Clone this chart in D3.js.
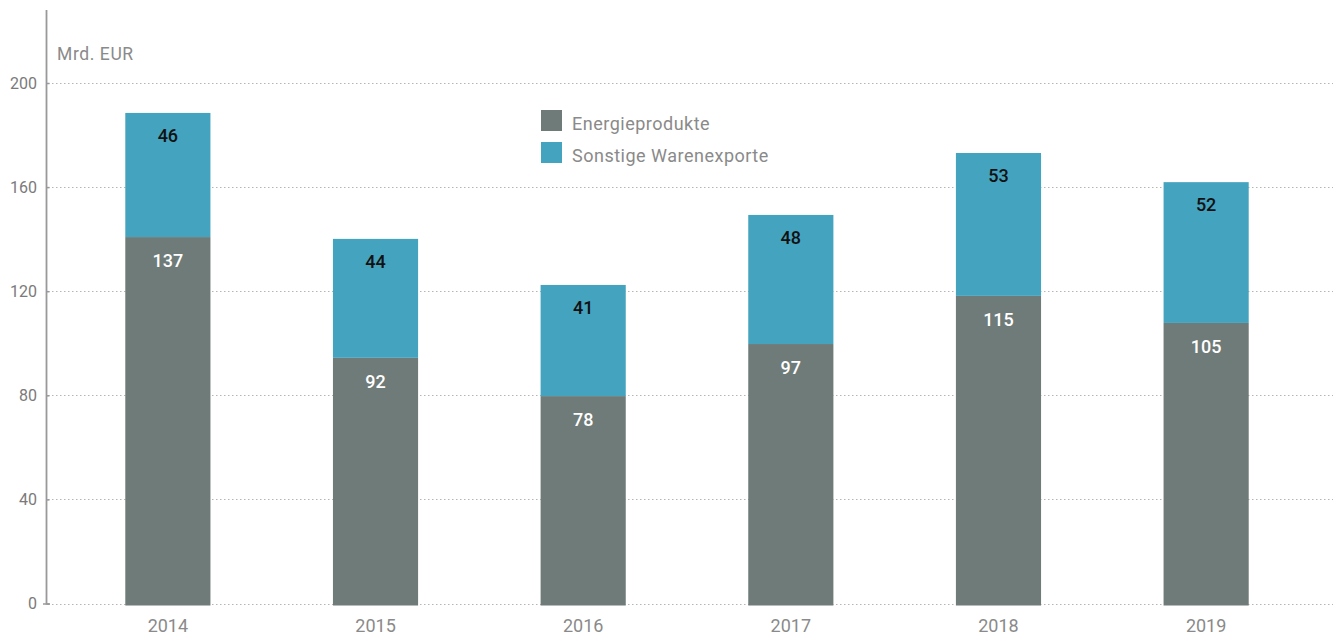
<!DOCTYPE html>
<html>
<head>
<meta charset="utf-8">
<script src="https://cdn.jsdelivr.net/npm/d3@7"></script>
<style>
  body { margin: 0; background: #fff; }
  svg text { font-family: Roboto, "Noto Sans", sans-serif; }
</style>
</head>
<body>
<div id="chart"></div>
<script>
const years = ["2014", "2015", "2016", "2017", "2018", "2019"];
// bar heights as drawn in the picture
const energie = [140.8, 94.4, 79.7, 99.7, 118.2, 107.8];
const sonstige = [47.7, 45.7, 42.7, 49.6, 54.9, 54.1];
// printed labels
const energieLabels = ["137", "92", "78", "97", "115", "105"];
const sonstigeLabels = ["46", "44", "41", "48", "53", "52"];
const yTicks = [0, 40, 80, 120, 160, 200];
const seriesNames = ["Energieprodukte", "Sonstige Warenexporte"];

const width = 1333, height = 639;
const colGrey = "#6f7b78", colBlue = "#44a3bf", textGrey = "#8a8a8a";

const svg = d3.select("#chart").append("svg")
    .attr("width", width)
    .attr("height", height);

const x = d3.scaleBand().domain(years).range([63, 1311]).paddingInner(0.59).paddingOuter(0.3);
const y = d3.scaleLinear().domain([0, 200]).range([603.5, 83]);

// grid lines
svg.append("g")
    .selectAll("line")
    .data(yTicks)
    .enter()
    .append("line")
    .attr("x1", 48)
    .attr("x2", width)
    .attr("y1", d => Math.round(y(d)) + 0.5)
    .attr("y2", d => Math.round(y(d)) + 0.5)
    .attr("stroke", "#b5b5b5")
    .attr("stroke-width", 1.2)
    .attr("stroke-dasharray", "1.5,2.5");

// y axis
const yAxis = svg.append("g")
    .attr("transform", "translate(46.5,0)")
    .call(d3.axisRight(y).tickValues(yTicks).tickSize(3).tickFormat(""));
yAxis.select(".domain").remove();
yAxis.selectAll("line").attr("stroke", "#999").attr("stroke-width", 1.5);
svg.append("line")
    .attr("x1", 46.5).attr("x2", 46.5)
    .attr("y1", 10).attr("y2", y(0) + 1)
    .attr("stroke", "#999")
    .attr("stroke-width", 1.8);
svg.append("line")
    .attr("x1", 43).attr("x2", 50)
    .attr("y1", y(0) + 0.5).attr("y2", y(0) + 0.5)
    .attr("stroke", "#999")
    .attr("stroke-width", 1.5);

svg.append("g")
    .selectAll("text")
    .data(yTicks)
    .enter()
    .append("text")
    .attr("x", 37)
    .attr("y", d => y(d))
    .attr("dy", "0.35em")
    .attr("text-anchor", "end")
    .attr("font-size", 16)
    .attr("fill", "#7a7a7a")
    .text(d => d);

svg.append("text")
    .attr("x", 57)
    .attr("y", 60)
    .attr("font-size", 17.5)
    .attr("letter-spacing", 0.6)
    .attr("fill", textGrey)
    .text("Mrd. EUR");

// bars
const bars = svg.append("g");
bars.selectAll(".energie")
    .data(years)
    .enter()
    .append("rect")
    .attr("class", "energie")
    .attr("x", d => x(d))
    .attr("width", x.bandwidth())
    .attr("y", (d, i) => y(energie[i]))
    .attr("height", (d, i) => y(0) + 2 - y(energie[i]))
    .attr("fill", colGrey);

bars.selectAll(".sonstige")
    .data(years)
    .enter()
    .append("rect")
    .attr("class", "sonstige")
    .attr("x", d => x(d))
    .attr("width", x.bandwidth())
    .attr("y", (d, i) => y(energie[i] + sonstige[i]))
    .attr("height", (d, i) => y(energie[i]) - y(energie[i] + sonstige[i]))
    .attr("fill", colBlue);

// value labels
bars.selectAll(".lblE")
    .data(years)
    .enter()
    .append("text")
    .attr("x", d => x(d) + x.bandwidth() / 2)
    .attr("y", (d, i) => y(energie[i]) + 30)
    .attr("text-anchor", "middle")
    .attr("font-size", 18)
    .attr("font-weight", 500)
    .attr("fill", "#fff")
    .text((d, i) => energieLabels[i]);

bars.selectAll(".lblS")
    .data(years)
    .enter()
    .append("text")
    .attr("x", d => x(d) + x.bandwidth() / 2)
    .attr("y", (d, i) => y(energie[i] + sonstige[i]) + 29)
    .attr("text-anchor", "middle")
    .attr("font-size", 18)
    .attr("font-weight", 500)
    .attr("fill", "#111")
    .text((d, i) => sonstigeLabels[i]);

// x labels
svg.append("g")
    .selectAll("text")
    .data(years)
    .enter()
    .append("text")
    .attr("x", d => x(d) + x.bandwidth() / 2)
    .attr("y", 632)
    .attr("text-anchor", "middle")
    .attr("font-size", 18)
    .attr("fill", textGrey)
    .text(d => d);

// legend
const legend = svg.append("g").attr("transform", "translate(541,110)");
const legendColors = [colGrey, colBlue];
seriesNames.forEach((name, i) => {
    legend.append("rect")
        .attr("x", 0)
        .attr("y", i * 32)
        .attr("width", 21)
        .attr("height", 21)
        .attr("fill", legendColors[i]);
    legend.append("text")
        .attr("x", 31)
        .attr("y", i * 32 + 14)
        .attr("dy", "0.35em")
        .attr("font-size", 18)
        .attr("letter-spacing", 0.5)
        .attr("fill", textGrey)
        .text(name);
});
</script>
</body>
</html>
